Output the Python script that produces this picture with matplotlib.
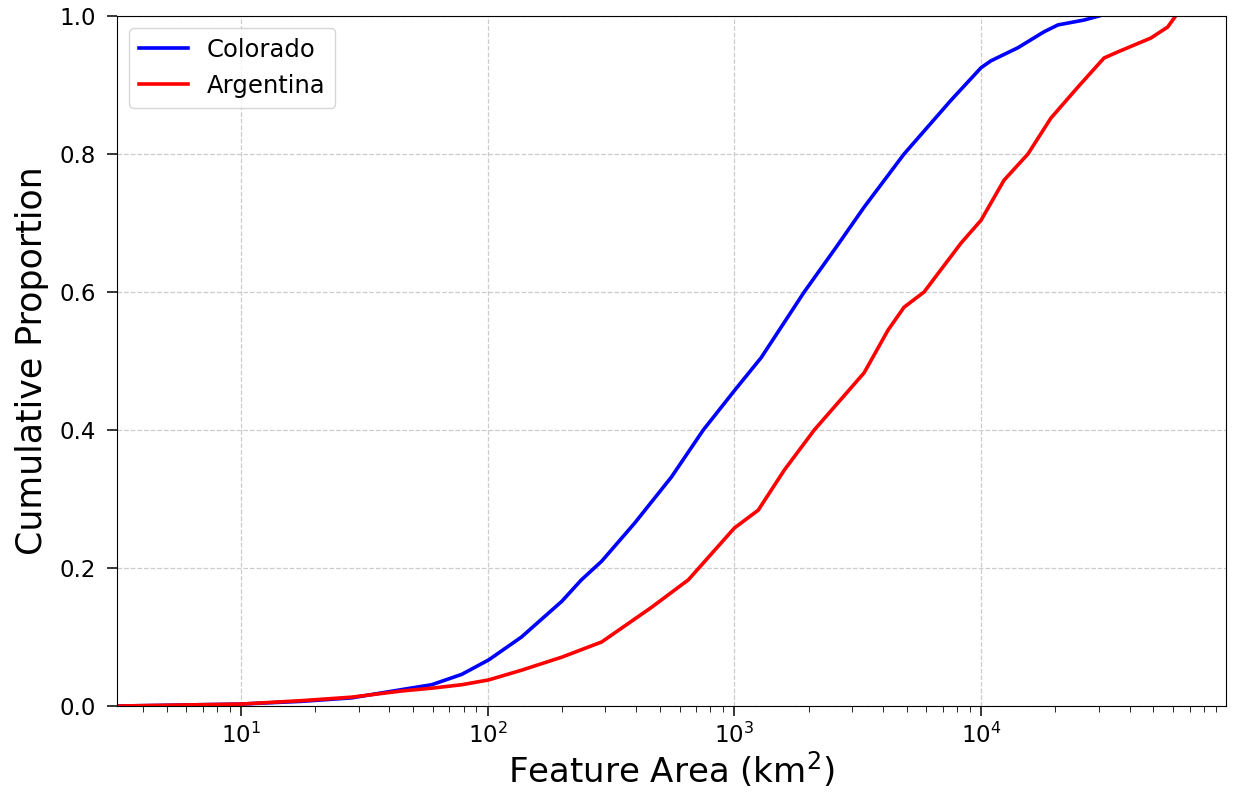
"""
Cumulative distribution of feature areas: Colorado vs Argentina
"""

import numpy as np
import matplotlib
matplotlib.use('Agg')
import matplotlib.pyplot as plt

# Feature area (km^2) and cumulative proportion
colorado_area = [3.0, 10, 17.7, 28.1, 44.9, 59.3, 78.5, 101, 137, 200, 240, 290,
                 394, 556, 748, 1000, 1285, 1919, 2587, 3358, 4875, 7560,
                 10000, 10970, 14120, 17990, 20500, 26100, 30100]
colorado_prop = [0.0, 0.003, 0.007, 0.012, 0.024, 0.031, 0.046, 0.067, 0.100, 0.152,
                 0.183, 0.210, 0.265, 0.332, 0.400, 0.457, 0.505, 0.600, 0.665,
                 0.723, 0.800, 0.878, 0.925, 0.935, 0.954, 0.977, 0.987, 0.994, 1.0]

argentina_area = [3.0, 10, 17.7, 28.1, 44.9, 59.3, 78.5, 101, 137, 200, 290, 461,
                  651, 1000, 1250, 1594, 2107, 3358, 4200, 4875, 5875, 8300,
                  10000, 12390, 15490, 19190, 24700, 31500, 35900, 48800,
                  57100, 61500]
argentina_prop = [0.0, 0.003, 0.008, 0.013, 0.022, 0.026, 0.031, 0.038, 0.052, 0.071,
                  0.093, 0.143, 0.183, 0.258, 0.284, 0.342, 0.400, 0.483, 0.545,
                  0.578, 0.600, 0.671, 0.704, 0.762, 0.800, 0.852, 0.897, 0.939,
                  0.948, 0.968, 0.984, 1.0]


def main():
    fig = plt.figure(figsize=(12.33, 7.97), dpi=100)
    ax = fig.add_axes([0.095, 0.114, 0.899, 0.866])

    ax.plot(colorado_area, colorado_prop, color='blue', linewidth=2.6, label='Colorado')
    ax.plot(argentina_area, argentina_prop, color='red', linewidth=2.6, label='Argentina')

    ax.set_xscale('log')
    ax.set_xlim(3.15, 9.8e4)
    ax.set_ylim(0, 1.0)

    ax.grid(True, which='major', linestyle='--', color='#cccccc', linewidth=0.9)
    ax.tick_params(axis='both', which='major', labelsize=16.5, length=7, width=1.1)
    ax.tick_params(axis='y', which='major', pad=8)
    ax.tick_params(axis='x', which='major', pad=5)
    ax.tick_params(axis='x', which='minor', length=4.5)

    ax.set_xlabel('Feature Area (km$^2$)', fontsize=24.5, labelpad=1)
    ax.set_ylabel('Cumulative Proportion', fontsize=25, labelpad=8)

    ax.legend(loc='upper left', fontsize=17.5, framealpha=0.8)

    fig.savefig('out.png', dpi=100)
    plt.close(fig)


if __name__ == "__main__":
    main()
